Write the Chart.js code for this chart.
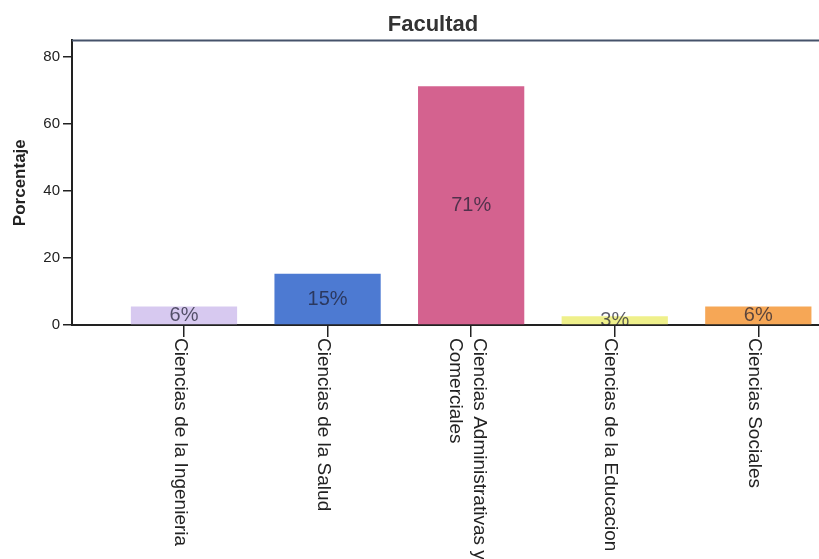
<!DOCTYPE html>
<html lang="es">
<head>
<meta charset="utf-8">
<title>Facultad</title>
<script src="https://cdn.jsdelivr.net/npm/chart.js@4.4.1/dist/chart.umd.min.js"></script>
<style>
  html, body { margin: 0; padding: 0; background: #fff; overflow: hidden; }
  #contenedor { width: 866px; height: 559px; }
</style>
</head>
<body>
<div id="contenedor"><canvas id="grafica"></canvas></div>
<script>
// Facultades, cada una partida en las lineas que se imprimen bajo el eje
const facultades = [
    ["Ciencias de la Ingenieria"],
    ["Ciencias de la Salud"],
    ["Ciencias Administrativas y", "Comerciales"],
    ["Ciencias de la Educacion"],
    ["Ciencias Sociales"]
];
// Porcentaje de encuestados por facultad
const porcentajes = [5.5, 15.3, 71.3, 2.6, 5.5];
const coloresBarras = ["#d7c9f0", "#4d7ad2", "#d4628f", "#eff08b", "#f6a756"];
// Marcas del eje de porcentaje
const marcasY = [0, 20, 40, 60, 80];

const fuente = "'Liberation Sans', Arial, sans-serif";

document.addEventListener("DOMContentLoaded", function () {
    generarGrafica();
});

// Escribe el porcentaje redondeado en el centro de cada barra
const etiquetasValor = {
    id: "etiquetasValor",
    afterDatasetsDraw(chart) {
        const ctx = chart.ctx;
        const barras = chart.getDatasetMeta(0).data;
        ctx.save();
        ctx.font = "20px " + fuente;
        ctx.fillStyle = "rgba(30, 30, 50, 0.72)";
        ctx.textAlign = "center";
        ctx.textBaseline = "middle";
        barras.forEach((barra, i) => {
            const centroY = (barra.y + barra.base) / 2;
            ctx.fillText(Math.round(porcentajes[i]) + "%", barra.x, centroY);
        });
        ctx.restore();
    }
};

// Nombres de facultad girados 90 grados (se leen de arriba hacia abajo)
// y linea superior del marco
const etiquetasEjeX = {
    id: "etiquetasEjeX",
    afterDraw(chart) {
        const ctx = chart.ctx;
        const ejeX = chart.scales.x;
        const area = chart.chartArea;
        const altoLinea = 24;

        ctx.save();
        ctx.strokeStyle = "#45526a";
        ctx.lineWidth = 2;
        ctx.beginPath();
        ctx.moveTo(area.left, area.top);
        ctx.lineTo(area.right, area.top);
        ctx.stroke();

        ctx.font = "19px " + fuente;
        ctx.fillStyle = "#222";
        ctx.textAlign = "left";
        ctx.textBaseline = "middle";
        facultades.forEach((lineas, i) => {
            const x = ejeX.getPixelForValue(i);
            ctx.save();
            ctx.translate(x, ejeX.top + 13);
            ctx.rotate(Math.PI / 2);
            // y local positivo = hacia la izquierda en pantalla
            lineas.forEach((linea, j) => {
                ctx.fillText(linea, 0, 4 + (j - (lineas.length - 1) / 2) * altoLinea);
            });
            ctx.restore();
        });
        ctx.restore();
    }
};

function generarGrafica() {
    const canvas = document.getElementById("grafica");

    new Chart(canvas, {
        type: "bar",
        data: {
            datasets: [{
                label: "Porcentaje",
                data: porcentajes.map((valor, i) => ({ x: i, y: valor })),
                backgroundColor: coloresBarras,
                borderWidth: 0,
                barPercentage: 0.74,
                categoryPercentage: 1
            }]
        },
        options: {
            responsive: true,
            maintainAspectRatio: false,
            animation: false,
            layout: { padding: 0 },
            plugins: {
                legend: { display: false },
                tooltip: { enabled: false },
                title: {
                    display: true,
                    text: "Facultad",
                    color: "#333",
                    font: { family: fuente, size: 22, weight: "bold" },
                    padding: { top: 12, bottom: 2 }
                }
            },
            scales: {
                x: {
                    type: "linear",
                    offset: false,
                    min: -0.78,
                    max: 4.75,
                    afterBuildTicks: (eje) => {
                        eje.ticks = facultades.map((_, i) => ({ value: i }));
                    },
                    afterFit: (eje) => {
                        eje.height = 234;
                    },
                    ticks: { display: false },
                    grid: {
                        offset: false,
                        drawOnChartArea: false,
                        drawTicks: true,
                        tickLength: 12,
                        color: "#222",
                        lineWidth: 1.5
                    },
                    border: { display: true, color: "#222", width: 2 }
                },
                y: {
                    min: 0,
                    max: 85,
                    afterBuildTicks: (eje) => {
                        eje.ticks = marcasY.map(v => ({ value: v }));
                    },
                    afterFit: (eje) => {
                        eje.width = 72;
                    },
                    ticks: {
                        color: "#222",
                        padding: 3,
                        font: { family: fuente, size: 15 }
                    },
                    grid: {
                        drawOnChartArea: false,
                        drawTicks: true,
                        tickLength: 9,
                        color: "#222",
                        lineWidth: 1.5
                    },
                    border: { display: true, color: "#222", width: 2 },
                    title: {
                        display: true,
                        text: "Porcentaje",
                        color: "#222",
                        font: { family: fuente, size: 17, weight: "bold" },
                        padding: { top: 10, bottom: 0 }
                    }
                }
            }
        },
        plugins: [etiquetasValor, etiquetasEjeX]
    });
}
</script>
</body>
</html>
